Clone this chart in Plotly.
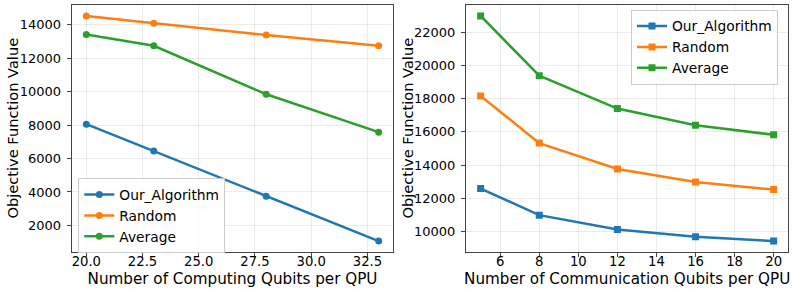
import plotly.graph_objects as go

# Left panel: computing qubits
comp_qubits = [20, 23, 28, 33]
comp_our = [8057, 6449, 3750, 1064]
comp_random = [14530, 14100, 13386, 12748]
comp_average = [13422, 12748, 9845, 7580]

# Right panel: communication qubits
comm_qubits = [5, 8, 12, 16, 20]
comm_our = [12580, 10980, 10120, 9680, 9420]
comm_random = [18160, 15320, 13760, 12980, 12520]
comm_average = [22980, 19380, 17400, 16400, 15820]

series_names = ["Our_Algorithm", "Random", "Average"]
colors = ["#1f77b4", "#ff7f0e", "#2ca02c"]

FONT = "DejaVu Sans"
W, H = 793, 294


def padded(vals, frac=0.05):
    lo, hi = min(vals), max(vals)
    d = (hi - lo) * frac
    return [lo - d, hi + d]


fig = go.Figure()

for name, ys, c in zip(series_names, [comp_our, comp_random, comp_average], colors):
    fig.add_trace(go.Scatter(
        x=comp_qubits, y=ys, name=name, mode="lines+markers",
        line=dict(color=c, width=2.5), marker=dict(symbol="circle", size=7, color=c),
        xaxis="x", yaxis="y", legend="legend"))

for name, ys, c in zip(series_names, [comm_our, comm_random, comm_average], colors):
    fig.add_trace(go.Scatter(
        x=comm_qubits, y=ys, name=name, mode="lines+markers",
        line=dict(color=c, width=2.5), marker=dict(symbol="square", size=7, color=c),
        xaxis="x2", yaxis="y2", legend="legend2"))

axis_common = dict(
    showline=True, mirror=True, linecolor="#444444", linewidth=1,
    ticks="outside", ticklen=4, tickcolor="#444444", tickwidth=1,
    showgrid=True, gridcolor="rgba(0,0,0,0.08)", gridwidth=1,
    zeroline=False, automargin=False,
)
xtick_font = dict(family=FONT, size=13.2, color="black")
ytick_font = dict(family=FONT, size=13, color="black")
xtitle_font = dict(family=FONT, size=15.2, color="black")
ytitle_font = dict(family=FONT, size=14.6, color="black")

ydom = [(294 - 252.3) / H, (294 - 4.7) / H]
ymid = (ydom[0] + ydom[1]) / 2

fig.update_layout(
    width=W, height=H, margin=dict(l=0, r=0, t=0, b=0),
    paper_bgcolor="white", plot_bgcolor="white",
    font=dict(family=FONT, color="black"),
    xaxis=dict(domain=[71.7 / W, 393.3 / W], anchor="y", range=padded(comp_qubits),
               dtick=2.5, tick0=20, tickformat=".1f", ticklabelstandoff=-7, tickfont=xtick_font,
               title=dict(text="Number of Computing Qubits per QPU", standoff=5, font=xtitle_font),
               **axis_common),
    yaxis=dict(domain=ydom, anchor="x", range=padded(comp_our + comp_random + comp_average),
               dtick=2000, tick0=0, tickformat="d", ticklabelstandoff=3, tickfont=ytick_font,
               **axis_common),
    xaxis2=dict(domain=[466 / W, 788.3 / W], anchor="y2", range=padded(comm_qubits),
                dtick=2, tick0=0, tickformat="d", ticklabelstandoff=-7, tickfont=xtick_font,
                title=dict(text="Number of Communication Qubits per QPU", standoff=5, font=xtitle_font),
                **axis_common),
    yaxis2=dict(domain=ydom, anchor="x2", range=padded(comm_our + comm_random + comm_average),
                dtick=2000, tick0=0, tickformat="d", ticklabelstandoff=3, tickfont=ytick_font,
                **axis_common),
    legend=dict(x=78.3 / W, y=1 - 178 / H, xanchor="left", yanchor="top",
                bgcolor="rgba(255,255,255,0.8)", bordercolor="#cccccc", borderwidth=1,
                font=dict(family=FONT, size=13.8, color="black"), tracegroupgap=0),
    legend2=dict(x=631 / W, y=1 - 9.5 / H, xanchor="left", yanchor="top",
                 bgcolor="rgba(255,255,255,0.8)", bordercolor="#cccccc", borderwidth=1,
                 font=dict(family=FONT, size=13.8, color="black"), tracegroupgap=0),
    showlegend=True,
    annotations=[
        dict(text="Objective Function Value", textangle=-90, showarrow=False,
             xref="paper", yref="paper", x=12.0 / W, y=ymid, xanchor="center", yanchor="middle",
             font=ytitle_font),
        dict(text="Objective Function Value", textangle=-90, showarrow=False,
             xref="paper", yref="paper", x=407.0 / W, y=ymid, xanchor="center", yanchor="middle",
             font=ytitle_font),
    ],
)

fig.write_html("out.html", config={"displayModeBar": False},
               post_script="document.body.style.margin='0';")
